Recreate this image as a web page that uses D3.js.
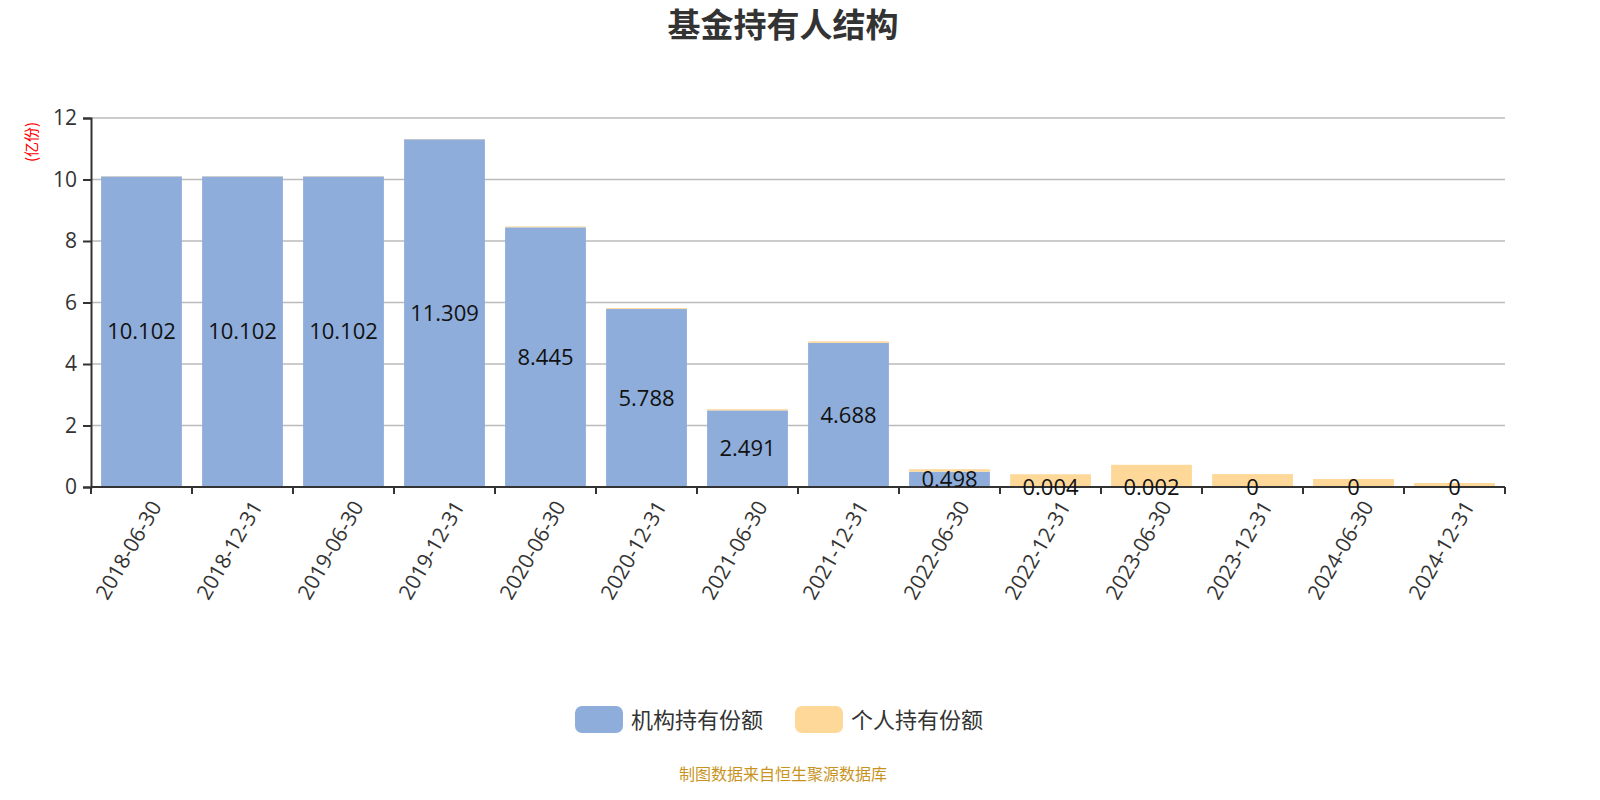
<!DOCTYPE html>
<html><head><meta charset="utf-8">
<script src="https://cdn.jsdelivr.net/npm/d3@7"></script>
<style>body{margin:0;background:#fff;font-family:"Microsoft YaHei","Noto Sans CJK SC",sans-serif;}</style>
</head><body>
<script>
const dates = ["2018-06-30","2018-12-31","2019-06-30","2019-12-31","2020-06-30","2020-12-31","2021-06-30","2021-12-31","2022-06-30","2022-12-31","2023-06-30","2023-12-31","2024-06-30","2024-12-31"];
const institutional = [10.102,10.102,10.102,11.309,8.445,5.788,2.491,4.688,0.498,0.004,0.002,0,0,0];
const individual = [0.01,0.01,0.01,0.01,0.03,0.03,0.04,0.05,0.08,0.41,0.72,0.42,0.26,0.13];
const yTicks = [0,2,4,6,8,10,12];

const W = 1600, H = 800;
const m = {left: 91, right: 95, top: 118, bottom: 313};
const svg = d3.select("body").append("svg").attr("width", W).attr("height", H);

const x = d3.scaleBand().domain(dates).range([m.left, W - m.right]).paddingInner(0.2).paddingOuter(0.1);
const y = d3.scaleLinear().domain([0, 12]).range([H - m.bottom, m.top]);

svg.append("text").attr("x", W/2 - 17).attr("y", 25).attr("dy", "0.35em").attr("text-anchor", "middle")
  .attr("font-size", 33).attr("font-weight", "bold").attr("fill", "#333").text("基金持有人结构");

// grid
svg.append("g").selectAll("line").data(yTicks.filter(d => d > 0)).join("line")
  .attr("x1", m.left).attr("x2", W - m.right).attr("y1", d => y(d)).attr("y2", d => y(d))
  .attr("stroke", "#bbb").attr("stroke-width", 1.5);

// bars
const g = svg.append("g");
dates.forEach((d, i) => {
  g.append("rect").attr("x", x(d)).attr("width", x.bandwidth())
    .attr("y", y(institutional[i])).attr("height", y(0) - y(institutional[i])).attr("fill", "#8eadda");
  g.append("rect").attr("x", x(d)).attr("width", x.bandwidth())
    .attr("y", y(institutional[i] + individual[i])).attr("height", y(0) - y(individual[i])).attr("fill", "#fed899");
});

// y axis
const ya = svg.append("g").attr("transform", `translate(${m.left},0)`)
  .call(d3.axisLeft(y).tickValues(yTicks).tickSize(8).tickPadding(6));
ya.selectAll("text").attr("font-size", 21).attr("fill", "#333").attr("font-family", "Open Sans, sans-serif");
ya.selectAll("line,path").attr("stroke", "#333").attr("stroke-width", 2);

// x axis
const xa = svg.append("g").attr("transform", `translate(0,${y(0)})`);
xa.append("line").attr("x1", m.left).attr("x2", W - m.right).attr("stroke", "#333").attr("stroke-width", 2);
xa.selectAll("line.t").data(d3.range(dates.length + 1)).join("line").attr("class","t")
  .attr("x1", i => m.left + i * (W - m.right - m.left) / dates.length)
  .attr("x2", i => m.left + i * (W - m.right - m.left) / dates.length)
  .attr("y2", 7).attr("stroke", "#333").attr("stroke-width", 2);
xa.selectAll("text").data(dates).join("text")
  .attr("transform", d => `translate(${x(d) + x.bandwidth()/2 + 8},12) rotate(-60)`)
  .attr("text-anchor", "end").attr("dy", "0.7em").attr("font-size", 21).attr("fill", "#333")
  .attr("font-family", "Open Sans, sans-serif").text(d => d);

// labels
svg.append("g").selectAll("text").data(dates).join("text")
  .attr("x", d => x(d) + x.bandwidth()/2)
  .attr("y", (d, i) => (y(0) + y(institutional[i])) / 2)
  .attr("dy", "0.35em").attr("text-anchor", "middle").attr("font-size", 22).attr("fill", "#111")
  .attr("font-family", "Open Sans, sans-serif")
  .text((d, i) => institutional[i]);

// y unit
svg.append("text").attr("transform", "translate(32,142) rotate(-90)").attr("text-anchor", "middle")
  .attr("dy", "0.35em").attr("font-size", 15).attr("fill", "red").text("(亿份)");

// legend
const legend = [["机构持有份额", "#8eadda", 575], ["个人持有份额", "#fed899", 795]];
legend.forEach(([t, c, lx]) => {
  svg.append("rect").attr("x", lx).attr("y", 706).attr("width", 48).attr("height", 27).attr("rx", 7).attr("fill", c);
  svg.append("text").attr("x", lx + 56).attr("y", 720).attr("dy", "0.35em").attr("font-size", 22).attr("fill", "#333").text(t);
});

svg.append("text").attr("x", 783).attr("y", 774).attr("dy", "0.35em").attr("text-anchor", "middle")
  .attr("font-size", 16).attr("fill", "#c8941f").text("制图数据来自恒生聚源数据库");
</script>
</body></html>
